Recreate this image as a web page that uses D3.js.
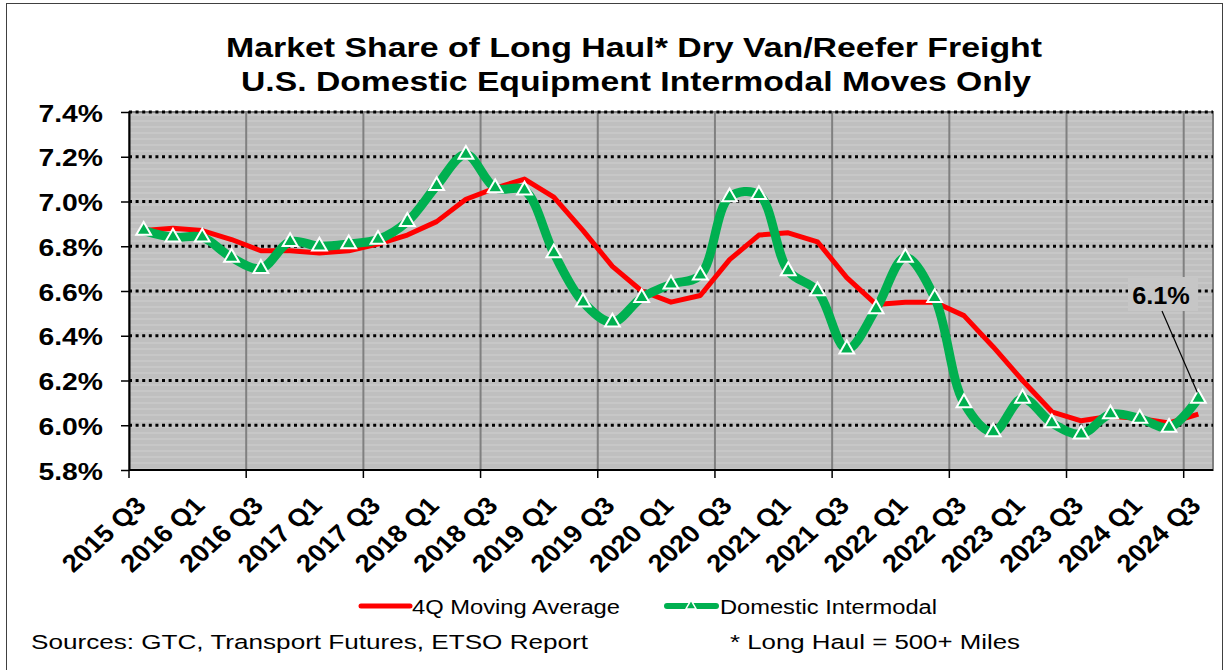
<!doctype html>
<html>
<head>
<meta charset="utf-8">
<script src="https://cdnjs.cloudflare.com/ajax/libs/d3/7.8.5/d3.min.js"></script>
<style>
  body { margin: 0; background: #fff; }
  svg text { font-family: Arial, "Liberation Sans", sans-serif; }
</style>
</head>
<body>
<svg id="chart" width="1229" height="670"></svg>
<script>
// quarters shown on the category axis
var quarters = ["2015 Q3","2015 Q4","2016 Q1","2016 Q2","2016 Q3","2016 Q4","2017 Q1","2017 Q2",
  "2017 Q3","2017 Q4","2018 Q1","2018 Q2","2018 Q3","2018 Q4","2019 Q1","2019 Q2","2019 Q3","2019 Q4",
  "2020 Q1","2020 Q2","2020 Q3","2020 Q4","2021 Q1","2021 Q2","2021 Q3","2021 Q4","2022 Q1","2022 Q2",
  "2022 Q3","2022 Q4","2023 Q1","2023 Q2","2023 Q3","2023 Q4","2024 Q1","2024 Q2","2024 Q3"];

// market share, percent
var intermodal = [6.87,6.84,6.84,6.75,6.70,6.82,6.80,6.81,6.83,6.91,7.07,7.21,7.06,7.05,6.77,6.55,
  6.46,6.57,6.63,6.67,7.02,7.03,6.69,6.60,6.34,6.52,6.75,6.57,6.10,5.97,6.12,6.01,5.96,6.05,6.03,5.99,6.12];
var movingAvg = [6.87,6.88,6.87,6.83,6.78,6.78,6.77,6.78,6.81,6.85,6.91,7.01,7.06,7.10,7.02,6.87,
  6.71,6.60,6.55,6.58,6.74,6.85,6.86,6.82,6.66,6.54,6.55,6.55,6.49,6.35,6.20,6.06,6.02,6.04,6.03,6.01,6.05];
var yTicks = [5.8,6.0,6.2,6.4,6.6,6.8,7.0,7.2,7.4];
var lastLabel = "6.1%";

var svg = d3.select("#chart");
var plotL = 129, plotR = 1213, plotT = 112, plotB = 470;
var sx = 1.18; // the original picture is a bit wider than tall

var x = d3.scaleBand().domain(quarters).range([plotL, plotR]).padding(0);
var y = d3.scaleLinear().domain([5.8, 7.4]).range([plotB, plotT]);
var cx = function(d, i) { return x(quarters[i]) + x.bandwidth() / 2; };

// outer frame
svg.append("rect").attr("x", 6.5).attr("y", 3.5).attr("width", 1216).attr("height", 700)
  .attr("fill", "#fff").attr("stroke", "#404040").attr("stroke-width", 1);

// title
svg.append("text").attr("x", 634).attr("y", 57).attr("text-anchor", "middle")
  .attr("font-size", 27).attr("font-weight", "bold")
  .attr("textLength", 816).attr("lengthAdjust", "spacingAndGlyphs")
  .text("Market Share of Long Haul* Dry Van/Reefer Freight");
svg.append("text").attr("x", 636).attr("y", 91).attr("text-anchor", "middle")
  .attr("font-size", 27).attr("font-weight", "bold")
  .attr("textLength", 790).attr("lengthAdjust", "spacingAndGlyphs")
  .text("U.S. Domestic Equipment Intermodal Moves Only");

// plot background with faint stripes
var defs = svg.append("defs");
var pat = defs.append("pattern").attr("id", "stripes").attr("patternUnits", "userSpaceOnUse")
  .attr("width", 10).attr("height", 6);
pat.append("rect").attr("width", 10).attr("height", 6).attr("fill", "#bfbfbf");
pat.append("rect").attr("y", 0).attr("width", 10).attr("height", 2).attr("fill", "#c7c7c7");
svg.append("rect").attr("x", plotL).attr("y", plotT).attr("width", plotR - plotL).attr("height", plotB - plotT)
  .attr("fill", "url(#stripes)").attr("stroke", "#808080").attr("stroke-width", 2);

// vertical grid every 4 quarters
var bounds = d3.range(4, quarters.length, 4);
svg.append("g").selectAll("line").data(bounds).join("line")
  .attr("x1", function(i) { return x(quarters[i]); })
  .attr("x2", function(i) { return x(quarters[i]); })
  .attr("y1", plotT).attr("y2", plotB)
  .attr("stroke", "#808080").attr("stroke-width", 2);

// horizontal dotted grid
svg.append("g").selectAll("line").data(yTicks.slice(1)).join("line")
  .attr("x1", plotL).attr("x2", plotR)
  .attr("y1", function(d) { return y(d); }).attr("y2", function(d) { return y(d); })
  .attr("stroke", "#000").attr("stroke-width", 3).attr("stroke-dasharray", "3,3.6");

// y axis
var yAxis = svg.append("g").attr("transform", "translate(" + plotL + ",0)")
  .call(d3.axisLeft(y).tickValues(yTicks).tickSize(8).tickSizeOuter(0)
    .tickFormat(function(d) { return d.toFixed(1) + "%"; }));
yAxis.select(".domain").attr("stroke", "#000").attr("stroke-width", 2);
yAxis.selectAll(".tick line").attr("stroke", "#000").attr("stroke-width", 1.5);
yAxis.selectAll(".tick text").attr("font-size", 24).attr("font-weight", "bold").attr("fill", "#000")
  .attr("font-family", "Arial, 'Liberation Sans', sans-serif")
  .attr("dy", null).attr("y", 9).attr("x", -26 / sx).attr("transform", "scale(" + sx + ",1)");

// x axis line and ticks
svg.append("line").attr("x1", plotL).attr("x2", plotR).attr("y1", plotB).attr("y2", plotB)
  .attr("stroke", "#000").attr("stroke-width", 2);
svg.append("g").selectAll("line").data(d3.range(0, quarters.length, 4)).join("line")
  .attr("x1", function(i) { return x(quarters[i]); })
  .attr("x2", function(i) { return x(quarters[i]); })
  .attr("y1", plotB).attr("y2", plotB + 8)
  .attr("stroke", "#000").attr("stroke-width", 1.5);

// x labels every 2 quarters, rotated
var labelIdx = d3.range(0, quarters.length, 2);
svg.append("g").selectAll("text").data(labelIdx).join("text")
  .attr("transform", function(i) {
    return "translate(" + (cx(null, i) + 4) + "," + 507 + ") scale(1.12,1) rotate(-45)";
  })
  .attr("text-anchor", "end").attr("font-size", 24.5).attr("font-weight", "bold")
  .text(function(i) { return quarters[i]; });

// series lines
var redLine = d3.line().x(function(d, i) { return cx(d, i); }).y(function(d) { return y(d); });
var greenLine = d3.line().x(function(d, i) { return cx(d, i); }).y(function(d) { return y(d); })
  .curve(d3.curveCatmullRom);

svg.append("path").datum(movingAvg).attr("d", redLine)
  .attr("fill", "none").attr("stroke", "#ff0000").attr("stroke-width", 5).attr("stroke-linejoin", "round");
svg.append("path").datum(intermodal).attr("d", greenLine)
  .attr("fill", "none").attr("stroke", "#00b050").attr("stroke-width", 9).attr("stroke-linejoin", "round");

var tri = d3.symbol(d3.symbolTriangle, 95);
svg.append("g").selectAll("path").data(intermodal).join("path")
  .attr("transform", function(d, i) { return "translate(" + cx(d, i) + "," + y(d) + ")"; })
  .attr("d", tri).attr("fill", "#00b050").attr("stroke", "#fff").attr("stroke-width", 2);

// callout for last value
var lastX = cx(null, quarters.length - 1), lastY = y(intermodal[intermodal.length - 1]);
svg.append("rect").attr("x", 1128).attr("y", 277).attr("width", 70).attr("height", 34).attr("fill", "#c6c6c6");
svg.append("text").attr("transform", "translate(1161,304) scale(1.1,1)").attr("text-anchor", "middle")
  .attr("font-size", 23).attr("font-weight", "bold").text(lastLabel);
svg.append("line").attr("x1", 1162).attr("y1", 311).attr("x2", lastX - 1).attr("y2", lastY - 6)
  .attr("stroke", "#000").attr("stroke-width", 1.2);

// legend
var lg = svg.append("g");
lg.append("line").attr("x1", 361).attr("x2", 410).attr("y1", 606).attr("y2", 606)
  .attr("stroke", "#ff0000").attr("stroke-width", 5).attr("stroke-linecap", "round");
lg.append("text").attr("x", 412).attr("y", 614).attr("font-size", 19.5)
  .attr("textLength", 208).attr("lengthAdjust", "spacingAndGlyphs").text("4Q Moving Average");
lg.append("line").attr("x1", 667).attr("x2", 716).attr("y1", 606).attr("y2", 606)
  .attr("stroke", "#00b050").attr("stroke-width", 6).attr("stroke-linecap", "round");
lg.append("path").attr("transform", "translate(691,606)").attr("d", d3.symbol(d3.symbolTriangle, 45))
  .attr("fill", "#00b050").attr("stroke", "#fff").attr("stroke-width", 1.5);
lg.append("text").attr("x", 720).attr("y", 614).attr("font-size", 19.5)
  .attr("textLength", 217).attr("lengthAdjust", "spacingAndGlyphs").text("Domestic Intermodal");

// footer notes
svg.append("text").attr("x", 31).attr("y", 649).attr("font-size", 20.5)
  .attr("textLength", 557).attr("lengthAdjust", "spacingAndGlyphs")
  .text("Sources: GTC, Transport Futures, ETSO Report");
svg.append("text").attr("x", 730).attr("y", 649).attr("font-size", 20.5)
  .attr("textLength", 290).attr("lengthAdjust", "spacingAndGlyphs")
  .text("* Long Haul = 500+ Miles");
</script>
</body>
</html>
